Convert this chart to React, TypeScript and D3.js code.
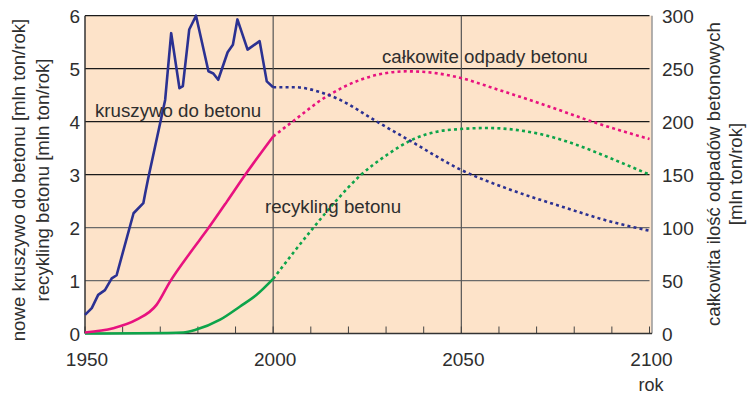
import React from "react";
import * as d3 from "d3";

// ---- data ----
const aggregateSolid: [number, number][] = [
  [1950, 0.35], [1951.8, 0.48], [1953.5, 0.73], [1955.3, 0.82], [1957.1, 1.04], [1958.4, 1.1],
  [1962.9, 2.27], [1965.5, 2.46], [1966, 2.65], [1966.8, 2.93], [1971.3, 4.41], [1972.9, 5.67],
  [1975.1, 4.63], [1976, 4.67], [1977.7, 5.74], [1979.5, 6.0], [1982.8, 4.95], [1984.1, 4.91],
  [1985.4, 4.79], [1987.9, 5.31], [1989.3, 5.45], [1990.5, 5.93], [1993.2, 5.36], [1996.4, 5.52],
  [1998.3, 4.76], [2000, 4.65],
];
const aggregateDotted: [number, number][] = [
  [2000, 4.65], [2005.7, 4.65], [2011.9, 4.57], [2017.2, 4.43], [2027.8, 3.99], [2036.6, 3.63],
  [2049.9, 3.09], [2063.2, 2.71], [2076.5, 2.4], [2089.8, 2.11], [2100, 1.94],
];
const wasteSolid: [number, number][] = [
  [1950, 0.02], [1957.5, 0.1], [1963.7, 0.26], [1969, 0.54], [1972.6, 0.98], [1977.9, 1.52],
  [1982.8, 1.99], [1987.7, 2.49], [1992.2, 2.96], [2000, 3.72],
];
const wasteDotted: [number, number][] = [
  [2000, 3.72], [2004.6, 3.97], [2014.3, 4.48], [2023.2, 4.79], [2035.6, 4.95], [2042.7, 4.92],
  [2050.1, 4.82], [2058.6, 4.63], [2071.9, 4.32], [2085.2, 3.99], [2100, 3.67],
];
const recycleSolid: [number, number][] = [
  [1950, 0.0], [1972, 0.01], [1976.1, 0.02], [1979.4, 0.07], [1985.9, 0.26], [1991.2, 0.51],
  [1995.6, 0.73], [2000, 1.03],
];
const recycleDotted: [number, number][] = [
  [2000, 1.03], [2005.3, 1.52], [2010.6, 1.99], [2016.9, 2.52], [2023.1, 2.98], [2030.2, 3.37],
  [2037.3, 3.67], [2043.5, 3.81], [2049.7, 3.86], [2056.8, 3.88], [2063.9, 3.85], [2071.9, 3.75],
  [2080.7, 3.56], [2089.6, 3.31], [2100, 3.0],
];
const leftTicks = [0, 1, 2, 3, 4, 5, 6];
const rightTicks = [0, 50, 100, 150, 200, 250, 300];
const xLabels = [1950, 2000, 2050, 2100];
const xMinorTicks = d3.range(1950, 2101, 10);

const W = 747;
const H = 394;
const left = 85;
const right = 649.5;
const top = 15.7;
const bottom = 333.5;

export default function App() {
  const x = d3.scaleLinear().domain([1950, 2100]).range([left, right]);
  const y = d3.scaleLinear().domain([0, 6]).range([bottom, top]);
  const y2 = d3.scaleLinear().domain([0, 300]).range([bottom, top]);
  const lineSmooth = d3.line<[number, number]>().x((d) => x(d[0])).y((d) => y(d[1])).curve(d3.curveMonotoneX);
  const lineJag = d3.line<[number, number]>().x((d) => x(d[0])).y((d) => y(d[1])).curve(d3.curveLinear);

  const font = "Liberation Sans, Arial, Helvetica, sans-serif";
  const txt = "#2e2e2e";
  const blue = "#2B3192";
  const pink = "#E8127F";
  const green = "#0DA44A";

  return (
    <svg width={W} height={H} style={{ position: "absolute", left: 0, top: 0 }} fontFamily={font}>
      <rect x={0} y={0} width={W} height={H} fill="#fff" />
      <rect x={left} y={top} width={652 - left} height={bottom - top} fill="#FDE3C9" />
      {/* horizontal grid */}
      {leftTicks.filter((t) => t > 0).map((t) => (
        <line key={t} x1={left} x2={right} y1={y(t)} y2={y(t)} stroke={t >= 3 ? "#1a1a1a" : "#6a6a6a"} strokeWidth={1.2} />
      ))}
      {/* vertical grid */}
      {[2000, 2050].map((yr) => (
        <line key={yr} x1={x(yr)} x2={x(yr)} y1={top} y2={bottom} stroke="#555" strokeWidth={1.2} />
      ))}
      {/* minor ticks on bottom */}
      {xMinorTicks.map((yr) => (
        <line key={yr} x1={x(yr)} x2={x(yr)} y1={bottom} y2={bottom - 7} stroke="#444" strokeWidth={1} />
      ))}
      {/* frame */}
      <line x1={652} x2={652} y1={top} y2={bottom} stroke="#999" strokeWidth={1.5} />
      <line x1={left} x2={left} y1={top} y2={bottom} stroke="#333" strokeWidth={1.5} />
      <line x1={left} x2={652} y1={bottom} y2={bottom} stroke="#333" strokeWidth={1.5} />

      {/* series */}
      <path d={lineSmooth(recycleSolid) || ""} fill="none" stroke={green} strokeWidth={2.6} />
      <path d={lineSmooth(recycleDotted) || ""} fill="none" stroke={green} strokeWidth={2.6} strokeDasharray="3,3.2" />
      <path d={lineSmooth(wasteSolid) || ""} fill="none" stroke={pink} strokeWidth={2.6} />
      <path d={lineSmooth(wasteDotted) || ""} fill="none" stroke={pink} strokeWidth={2.6} strokeDasharray="3,3.2" />
      <path d={lineJag(aggregateSolid) || ""} fill="none" stroke={blue} strokeWidth={2.6} strokeLinejoin="round" />
      <path d={lineSmooth(aggregateDotted) || ""} fill="none" stroke={blue} strokeWidth={2.6} strokeDasharray="3,3.2" />

      {/* left ticks */}
      {leftTicks.map((t) => (
        <text key={t} x={80} y={y(t) + 7} textAnchor="end" fontSize={19} fill={txt}>{t}</text>
      ))}
      {/* right ticks */}
      {rightTicks.map((t) => (
        <text key={t} x={662} y={y2(t) + 7} textAnchor="start" fontSize={19} fill={txt}>{t}</text>
      ))}
      {/* x labels */}
      {xLabels.map((yr) => (
        <text key={yr} x={x(yr) + 2} y={366} textAnchor="middle" fontSize={19} fill={txt}>{yr}</text>
      ))}
      <text x={651} y={391} textAnchor="middle" fontSize={18} fill={txt}>rok</text>

      {/* axis titles */}
      <text transform="translate(25,180) rotate(-90)" textAnchor="middle" fontSize={18.6} fill={txt}>nowe kruszywo do betonu [mln ton/rok]</text>
      <text transform="translate(49,180) rotate(-90)" textAnchor="middle" fontSize={18.6} fill={txt}>recykling betonu [mln ton/rok]</text>
      <text transform="translate(720,174) rotate(-90)" textAnchor="middle" fontSize={18.6} fill={txt}>całkowita ilość odpadów betonowych</text>
      <text transform="translate(742,174) rotate(-90)" textAnchor="middle" fontSize={18.6} fill={txt}>[mln ton/rok]</text>

      {/* annotations */}
      <text x={95} y={117} fontSize={18.7} fill={txt}>kruszywo do betonu</text>
      <text x={382} y={63} fontSize={18.7} fill={txt}>całkowite odpady betonu</text>
      <text x={265} y={213} fontSize={18.7} fill={txt}>recykling betonu</text>
    </svg>
  );
}
